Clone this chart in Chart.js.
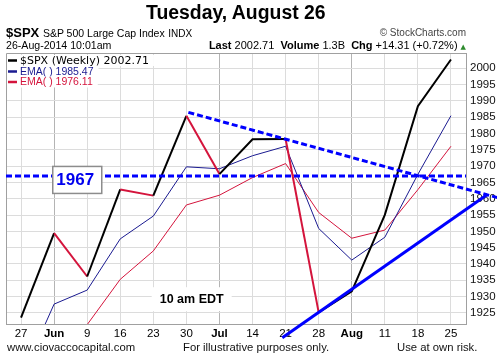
<!DOCTYPE html>
<html>
<head>
<meta charset="utf-8">
<script src="https://cdn.jsdelivr.net/npm/chart.js@4.4.1/dist/chart.umd.min.js"></script>
<style>
  html, body { margin: 0; padding: 0; background: #fff; }
  #wrap { position: relative; width: 497px; height: 360px; overflow: hidden; font-family: "Liberation Sans", Arial, sans-serif; color: #000; }
  #wrap canvas { position: absolute; left: 0; top: 0; }
  .t { position: absolute; white-space: nowrap; line-height: 1; }
</style>
</head>
<body>
<div id="wrap">
  <canvas id="c" width="497" height="360"></canvas>
  <div class="t" style="left:146px;top:3px;font-size:19.4px;font-weight:bold;line-height:19px;">Tuesday, August 26</div>
  <div class="t" style="left:6px;top:26px;font-size:13px;line-height:13px;"><b>$SPX</b> <span style="font-size:10.5px">S&amp;P 500 Large Cap Index</span> <span style="font-size:10px">INDX</span></div>
  <div class="t" style="right:31px;top:27.5px;font-size:10px;line-height:10px;color:#444;">© StockCharts.com</div>
  <div class="t" style="left:6px;top:40px;font-size:10.6px;line-height:10.6px;">26-Aug-2014 10:01am</div>
  <div class="t" style="right:31px;top:39.7px;font-size:11px;line-height:11px;"><b>Last</b> 2002.71 &nbsp;<b>Volume</b> 1.3B &nbsp;<b>Chg</b> +14.31 (+0.72%) <span style="font-family:'DejaVu Sans';font-size:7px;color:#2e8b2e">▲</span></div>
  <div class="t" style="left:7px;top:342.4px;font-size:11.3px;line-height:11.3px;color:#111;">www.ciovaccocapital.com</div>
  <div class="t" style="left:183px;top:342.4px;font-size:11.3px;line-height:11.3px;color:#111;">For illustrative purposes only.</div>
  <div class="t" style="left:397px;top:342.4px;font-size:11.3px;line-height:11.3px;color:#111;">Use at own risk.</div>
</div>
<script>
// ---- data ----
const weeks = ['27', 'Jun', '9', '16', '23', '30', 'Jul', '14', '21', '28', 'Aug', '11', '18', '25'];
const monthTicks = ['Jun', 'Jul', 'Aug'];
const spx = [1923.57, 1949.44, 1936.16, 1962.87, 1960.96, 1985.44, 1967.57, 1978.22, 1978.34, 1925.15, 1931.59, 1955.06, 1988.40, 2002.71];
const emaFast = [1905, 1927.7, 1932.0, 1947.7, 1954.7, 1969.8, 1969.2, 1973.2, 1976.1, 1950.9, 1941.2, 1948.2, 1967.5, 1985.47];
const emaSlow = [1897, 1914, 1921.4, 1935.3, 1944.0, 1958.1, 1961.1, 1966.5, 1970.8, 1955.8, 1947.9, 1950.4, 1962.8, 1976.11];
const levelValue = 1967;
const supportLine = [[7.9, 1917.4], [14.1, 1961.3]];
const resistanceLine = [[5.06, 1986.5], [14.42, 1960.3]];
const yTickValues = [1925, 1930, 1935, 1940, 1945, 1950, 1955, 1960, 1965, 1970, 1975, 1980, 1985, 1990, 1995, 2000];
const xMin = -0.4545, xMax = 13.4545;
const yMin = 1921.6, yMax = 2004.7;
const legendItems = [
  ['$SPX (Weekly) 2002.71', '#000000', '11px "DejaVu Sans"'],
  ['EMA( ) 1985.47', '#1a1a90', '10.5px "Liberation Sans"'],
  ['EMA( ) 1976.11', '#d4143c', '10.5px "Liberation Sans"']
];

const pts = arr => arr.map((v, i) => ({ x: i, y: v }));
const seg = arr => arr.map(p => ({ x: p[0], y: p[1] }));
const RED = '#d4143c';

const overlay = {
  id: 'overlay',
  beforeDatasetsDraw(chart) {
    const { ctx, chartArea: a } = chart;
    ctx.save();
    ctx.strokeStyle = '#a0a0a0';
    ctx.lineWidth = 1;
    ctx.beginPath();
    ctx.moveTo(a.left + 0.5, a.bottom);
    ctx.lineTo(a.left + 0.5, a.top + 0.5);
    ctx.lineTo(a.right, a.top + 0.5);
    ctx.stroke();
    ctx.restore();
  },
  afterDatasetsDraw(chart) {
    const { ctx, chartArea: a, scales } = chart;
    const xs = scales.x, ys = scales.y;
    ctx.save();
    // legend
    const lineYs = [60.5, 71.5, 82];
    legendItems.forEach((it, k) => {
      ctx.font = it[2];
      const w = ctx.measureText(it[0]).width;
      ctx.fillStyle = '#fff';
      ctx.fillRect(a.left + 1, lineYs[k] - 5.5, w + 18, 11);
      ctx.strokeStyle = it[1];
      ctx.lineWidth = 2.5;
      ctx.beginPath();
      ctx.moveTo(a.left + 2, lineYs[k]);
      ctx.lineTo(a.left + 11, lineYs[k]);
      ctx.stroke();
      ctx.fillStyle = it[1];
      ctx.textBaseline = 'middle';
      ctx.textAlign = 'left';
      ctx.fillText(it[0], a.left + 14, lineYs[k] + 0.5);
    });
    // level label box
    const lx = xs.getPixelForValue(1.7);
    const ly = ys.getPixelForValue(levelValue);
    ctx.fillStyle = '#fff';
    ctx.fillRect(lx - 24.5, ly - 9.5, 49, 27);
    ctx.strokeStyle = '#8c8c8c';
    ctx.lineWidth = 1.5;
    ctx.strokeRect(lx - 24.5, ly - 9.5, 49, 27);
    ctx.fillStyle = '#0000ee';
    ctx.font = 'bold 17px "Liberation Sans"';
    ctx.textAlign = 'center';
    ctx.textBaseline = 'middle';
    ctx.fillText(String(levelValue), lx - 2, ly + 4.5);
    // 10 am EDT
    const tx = xs.getPixelForValue(5.16);
    const ty = ys.getPixelForValue(1929.2);
    ctx.fillStyle = '#fff';
    ctx.fillRect(tx - 40, ty - 12, 80, 24);
    ctx.fillStyle = '#000';
    ctx.font = 'bold 12.5px "Liberation Sans"';
    ctx.fillText('10 am EDT', tx, ty);
    ctx.restore();
  }
};

new Chart(document.getElementById('c'), {
  type: 'line',
  data: {
    datasets: [
      { data: seg(supportLine), borderColor: '#0000ff', borderWidth: 3, pointRadius: 0, clip: false, order: 0, tension: 0 },
      { data: seg(resistanceLine), borderColor: '#0000ff', borderWidth: 3, borderDash: [6, 3], pointRadius: 0, clip: false, order: 0 },
      { data: seg([[xMin, levelValue], [xMax, levelValue]]), borderColor: '#0000ff', borderWidth: 3, borderDash: [6, 3], pointRadius: 0, order: 0 },
      { data: pts(spx), borderColor: '#000', borderWidth: 2, pointRadius: 0, order: 1,
        segment: { borderColor: c => c.p1.parsed.y < c.p0.parsed.y ? RED : '#000' } },
      { data: pts(emaFast), borderColor: '#1a1a90', borderWidth: 1, pointRadius: 0, order: 2 },
      { data: pts(emaSlow), borderColor: RED, borderWidth: 1, pointRadius: 0, order: 3 }
    ]
  },
  options: {
    responsive: false,
    devicePixelRatio: 1,
    animation: false,
    events: [],
    layout: { padding: { left: 6, top: 53, right: 0, bottom: 0 } },
    plugins: { legend: { display: false }, tooltip: { enabled: false }, title: { display: false } },
    scales: {
      x: {
        type: 'linear', position: 'bottom', min: xMin, max: xMax,
        afterBuildTicks: s => { s.ticks = weeks.map((_, i) => ({ value: i })); },
        afterFit: s => { s.height = 36; },
        grid: { drawTicks: false, color: c => (c.tick && monthTicks.includes(weeks[c.tick.value])) ? '#b4b4b4' : '#dcdcdc' },
        border: { display: true, color: '#a0a0a0' },
        ticks: {
          autoSkip: false, maxRotation: 0, padding: 3, color: '#000',
          callback: v => weeks[v],
          font: c => ({ family: '"Liberation Sans"', size: 11.5, weight: (c.tick && monthTicks.includes(weeks[c.tick.value])) ? 'bold' : 'normal' })
        }
      },
      y: {
        type: 'linear', position: 'right', min: yMin, max: yMax,
        afterBuildTicks: s => { s.ticks = yTickValues.map(v => ({ value: v })); },
        afterFit: s => { s.width = 31; },
        grid: { drawTicks: false, color: '#dcdcdc' },
        border: { display: true, color: '#a0a0a0' },
        ticks: { autoSkip: false, padding: 4, color: '#111', font: { family: '"Liberation Sans"', size: 11.5 }, callback: v => String(v) }
      }
    }
  },
  plugins: [overlay]
});
</script>
</body>
</html>
